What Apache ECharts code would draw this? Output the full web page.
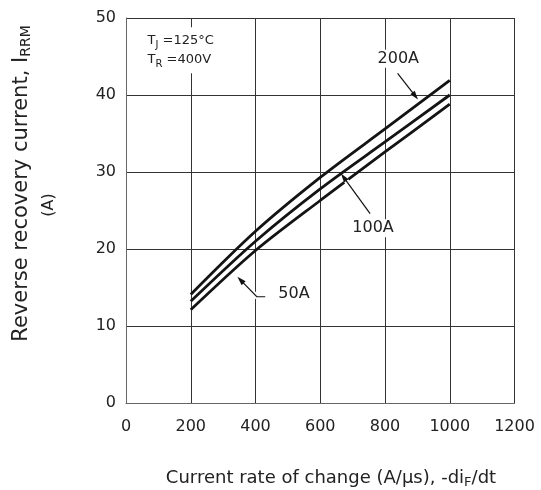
<!DOCTYPE html>
<html>
<head>
<meta charset="utf-8">
<script src="https://cdn.jsdelivr.net/npm/echarts@6/dist/echarts.min.js"></script>
<style>
html,body{margin:0;padding:0;background:#fff;}
#c{width:541px;height:490px;}
</style>
</head>
<body>
<div id="c"></div>
<script>
// ---- data ----
const xTicks = [0, 200, 400, 600, 800, 1000, 1200];
const yTicks = [0, 10, 20, 30, 40, 50];
const rates = [200, 400, 600, 800, 1000];            // -diF/dt (A/us)
const irrm200A = [14.1, 22.3, 29.3, 35.6, 41.9];      // IRRM (A) at IF = 200A
const irrm100A = [13.2, 21.0, 27.8, 33.9, 40.0];      // IRRM (A) at IF = 100A
const irrm50A  = [12.1, 19.8, 26.3, 32.6, 38.8];      // IRRM (A) at IF = 50A
const seriesNames = ['200A', '100A', '50A'];
const seriesValues = [irrm200A, irrm100A, irrm50A];

// annotation anchors in data coordinates
const labelAt = { '200A': [841, 44.7], '100A': [763, 22.7], '50A': [519, 14.2] };
const arrowAt = {
  '200A': [[839, 42.8], [902, 39.4]],
  '100A': [[754, 24.6], [664, 29.8]],
  '50A':  [[430, 13.8], [404, 13.8], [344, 16.4]]
};
const condAt = [48, 48.8];

const FONT = 'DejaVu Sans';
const INK = '#222';

const chart = echarts.init(document.getElementById('c'), null, { renderer: 'canvas' });

const option = {
  animation: false,
  backgroundColor: '#fff',
  grid: { left: 126, right: 26.5, top: 18, bottom: 87, containLabel: false },
  xAxis: {
    type: 'value', min: xTicks[0], max: xTicks[xTicks.length - 1], interval: 200,
    axisLine: { show: true, lineStyle: { color: '#666', width: 1 } },
    axisTick: { show: false },
    splitLine: { show: true, lineStyle: { color: '#333', width: 1 } },
    axisLabel: { color: INK, fontFamily: FONT, fontSize: 16, margin: 16, formatter: v => String(v) }
  },
  yAxis: {
    type: 'value', min: yTicks[0], max: yTicks[yTicks.length - 1], interval: 10,
    axisLine: { show: true, lineStyle: { color: '#666', width: 1 } },
    axisTick: { show: false },
    splitLine: { show: true, lineStyle: { color: '#333', width: 1 } },
    axisLabel: { color: INK, fontFamily: FONT, fontSize: 16, margin: 10, formatter: v => String(v) }
  },
  series: seriesNames.map((n, i) => ({
    name: n, type: 'line', smooth: 0.3, symbol: 'none', z: 3,
    data: rates.map((r, j) => [r, seriesValues[i][j]]),
    lineStyle: { color: '#141414', width: 2.8 }
  }))
};
chart.setOption(option);

const px = p => chart.convertToPixel({ gridIndex: 0 }, p);

const graphics = [];

// axis titles
graphics.push({
  type: 'text', x: 331, y: 478.5, silent: true, z: 20,
  style: {
    text: '{m|Current rate of change (A/μs), -di}{s|F}{m|/dt}',
    align: 'center', verticalAlign: 'middle',
    rich: {
      m: { fontFamily: FONT, fontSize: 18, lineHeight: 22, fill: INK },
      s: { fontFamily: FONT, fontSize: 13, lineHeight: 13, verticalAlign: 'bottom', fill: INK }
    }
  }
});
graphics.push({
  type: 'text', x: 21.5, y: 183.5, rotation: Math.PI / 2, silent: true, z: 20,
  style: {
    text: '{m|Reverse recovery current, I}{s|RRM}',
    align: 'center', verticalAlign: 'middle',
    rich: {
      m: { fontFamily: FONT, fontSize: 21, lineHeight: 24, fill: INK },
      s: { fontFamily: FONT, fontSize: 14, lineHeight: 16, verticalAlign: 'bottom', fill: INK }
    }
  }
});
graphics.push({
  type: 'text', x: 49, y: 205, rotation: Math.PI / 2, silent: true, z: 20,
  style: { text: '(A)', align: 'center', verticalAlign: 'middle', fontFamily: FONT, fontSize: 16, fill: INK }
});

// test-condition box
const cp = px(condAt);
graphics.push({
  type: 'text', x: cp[0], y: cp[1], silent: true, z: 20,
  style: {
    text: '{t|T}{s|J}{t| =125°C}\n{t|T}{s|R}{t| =400V}',
    align: 'left', verticalAlign: 'top',
    backgroundColor: '#fff', padding: [4, 6, 4, 6],
    rich: {
      t: { fontFamily: FONT, fontSize: 13, lineHeight: 19, fill: INK },
      s: { fontFamily: FONT, fontSize: 10, lineHeight: 13, verticalAlign: 'bottom', fill: INK }
    }
  }
});

// arrows with white halo
seriesNames.forEach(n => {
  const pts = arrowAt[n].map(px);
  const tip = pts[pts.length - 1];
  const prev = pts[pts.length - 2];
  let dx = tip[0] - prev[0], dy = tip[1] - prev[1];
  const L = Math.hypot(dx, dy); dx /= L; dy /= L;
  const haloPts = pts.slice(0, -1).concat([[tip[0] - dx * 7, tip[1] - dy * 7]]);
  graphics.push({
    type: 'polyline', silent: true, z: 10,
    shape: { points: haloPts },
    style: { stroke: '#fff', lineWidth: 5, fill: null }
  });
  graphics.push({
    type: 'polyline', silent: true, z: 11,
    shape: { points: pts.slice(0, -1).concat([[tip[0] - dx * 5, tip[1] - dy * 5]]) },
    style: { stroke: '#111', lineWidth: 1.2, fill: null }
  });
  const hl = 9, hw = 2.8;
  const bx = tip[0] - dx * hl, by = tip[1] - dy * hl;
  graphics.push({
    type: 'polygon', silent: true, z: 11,
    shape: { points: [tip, [bx - dy * hw, by + dx * hw], [bx + dy * hw, by - dx * hw]] },
    style: { fill: '#111', stroke: null }
  });
  const lp = px(labelAt[n]);
  graphics.push({
    type: 'text', x: lp[0], y: lp[1], silent: true, z: 12,
    style: {
      text: n, align: 'center', verticalAlign: 'middle',
      fontFamily: FONT, fontSize: 16, fill: INK,
      backgroundColor: '#fff', padding: [1, 2, 1, 2]
    }
  });
});

chart.setOption({ graphic: { elements: graphics } });
</script>
</body>
</html>
